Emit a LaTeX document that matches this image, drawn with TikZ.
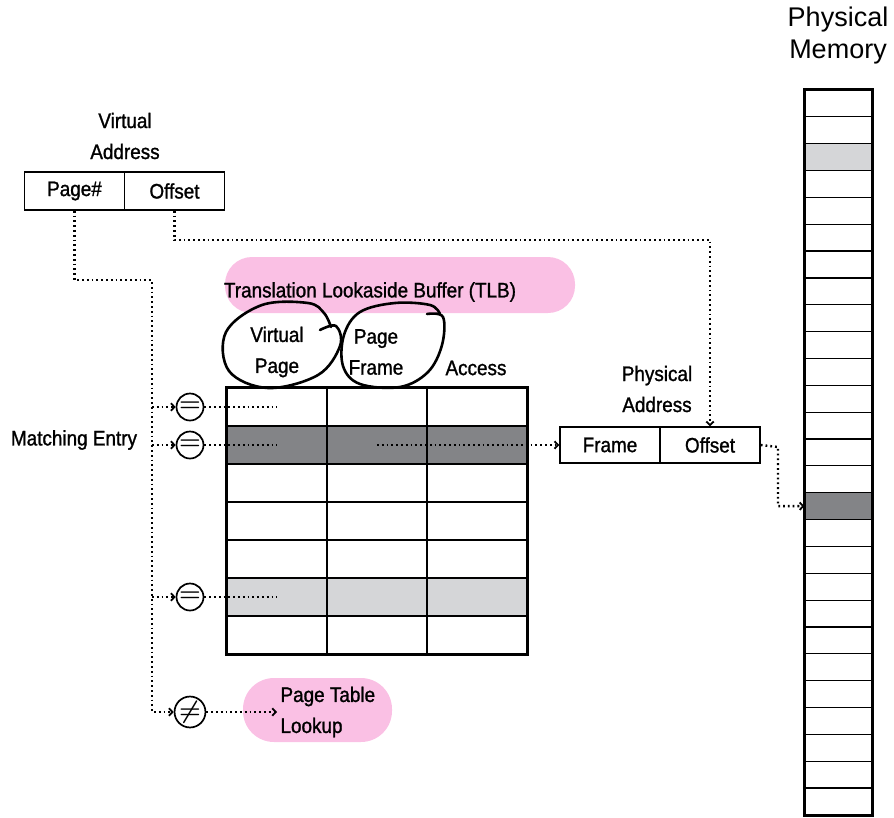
\documentclass[tikz,border=0pt]{standalone}
\usepackage{fontspec}
\usetikzlibrary{arrows.meta}
\newfontfamily\condfont[FakeStretch=0.9, FakeBold=1.2]{Liberation Sans}
\newfontfamily\memfont{Liberation Sans}
\definecolor{hlpink}{RGB}{250,192,228}
\definecolor{rowdark}{RGB}{131,132,135}
\definecolor{rowlight}{RGB}{213,214,216}

\begin{document}
\begin{tikzpicture}[
    x=1pt, y=-1pt,
    every node/.style={font=\condfont\fontsize{21}{31}\selectfont},
    >={Straight Barb[length=3.5pt,width=7.5pt,line width=1.8pt]},
    addrcell/.style={draw, line width=1.5pt, minimum width=100pt, minimum height=38pt, inner sep=0pt},
    tlbcell/.style={draw, line width=1.3pt, minimum width=100pt, minimum height=38pt, inner sep=0pt},
    memcell/.style={draw, line width=1.2pt, minimum width=67pt, minimum height=26.85pt, inner sep=0pt},
    cmp/.style={draw, circle, line width=1.7pt, minimum size=27pt, inner sep=0pt,
        font=\fontsize{24}{24}\selectfont\boldmath},
    dotline/.style={line width=2.4pt, dash pattern=on 1.8pt off 3pt},
    loopline/.style={line width=2.6pt, line cap=round, line join=round}
]
\useasboundingbox (0,0) rectangle (894,817);

% --- Highlights ---
\fill[hlpink, rounded corners=27pt] (225,257) rectangle (575,313);
\fill[hlpink, rounded corners=31pt] (243,678) rectangle (392,742);

% --- Virtual address ---
\node[addrcell] (va-page) at (74.5,191) {Page\#};
\node[addrcell] (va-off) at (174.5,191) {Offset};
\node[align=center] (va-label) at (125,136) {Virtual\\Address};

% --- TLB ---
\node (tlb-title) at (370,292) {Translation Lookaside Buffer (TLB)};
\foreach \r in {0,...,6}
  \foreach \c in {0,1,2}
    \node[tlbcell] (t-\r-\c) at ({277+100*\c}, {407+38*\r}) {};
\foreach \c in {0,1,2} {
  \node[tlbcell, fill=rowdark] at (t-1-\c) {};
  \node[tlbcell, fill=rowlight] at (t-5-\c) {};
}
\draw[line width=2.2pt] (t-0-0.north west) rectangle (t-6-2.south east);
\node[align=center] (h-vpage) at (277,352) {Virtual\\Page};
\node[align=center] (h-pframe) at (376,352) {Page\\Frame};
\node (h-access) at (476,368) {Access};

% --- Hand-drawn loops ---
\draw[loopline] plot[smooth, tension=0.6] coordinates {(320,330) (336,326) (340,346) (318,375)
    (268,388) (229,371) (226,332) (262,305) (308,303) (324,313) (331,327)};
\draw[loopline] plot[smooth, tension=0.6] coordinates {(427,314) (443,317) (442,345) (428,372)
    (400,387) (360,384) (343,366) (344,335) (360,312) (395,303) (430,305) (440,314)};

% --- Comparators ---
\node[cmp] (eq1) at (190,407) {$=$};
\node[cmp] (eq2) at (190,445) {$=$};
\node[cmp] (eq3) at (190,597) {$=$};
\node[cmp] (ne) at (190,712) {$\neq$};
\node (match) at (74,440) {Matching Entry};
\node[align=left, anchor=west] (ptl) at (277,712) {Page Table\\Lookup};

% --- Physical address ---
\node[addrcell, minimum height=36pt] (pa-frame) at (610,445) {Frame};
\node[addrcell, minimum height=36pt] (pa-off) at (710,445) {Offset};
\node[align=center] (pa-label) at (657,389) {Physical\\Address};

% --- Physical memory ---
\node[align=center, font=\memfont\fontsize{27}{32}\selectfont] (mem-label) at (838,36) {Physical\\Memory};
\foreach \i in {0,...,26}
  \node[memcell] (mem-\i) at (838.5, {103.4+26.85*\i}) {};
\node[memcell, fill=rowlight] at (mem-2) {};
\node[memcell, fill=rowdark] at (mem-15) {};
\draw[line width=2.2pt] (mem-0.north west) rectangle (mem-26.south east);

% --- Dotted connectors ---
\coordinate (bus) at (152,280);
\coordinate (off-bend) at (710,240);
\coordinate (mem-bus) at (778,447);
\draw[dotline, ->] (va-page.south) |- (bus) |- (ne.west);
\draw[dotline, ->] (bus |- eq1) -- (eq1.west);
\draw[dotline, ->] (bus |- eq2) -- (eq2.west);
\draw[dotline, ->] (bus |- eq3) -- (eq3.west);
\draw[dotline] (eq1.east) -- (t-0-0.center);
\draw[dotline] (eq2.east) -- (t-1-0.center);
\draw[dotline] (eq3.east) -- (t-5-0.center);
\draw[dotline, ->] (ne.east) -- (ptl.west);
\draw[dotline, ->] (t-1-1.center) -- (pa-frame.west);
\draw[dotline, ->] (va-off.south) |- (off-bend) -- (pa-off.north);
\draw[dotline, ->] (pa-off.east) -- (mem-bus) |- (mem-15.west);

\end{tikzpicture}
\end{document}
